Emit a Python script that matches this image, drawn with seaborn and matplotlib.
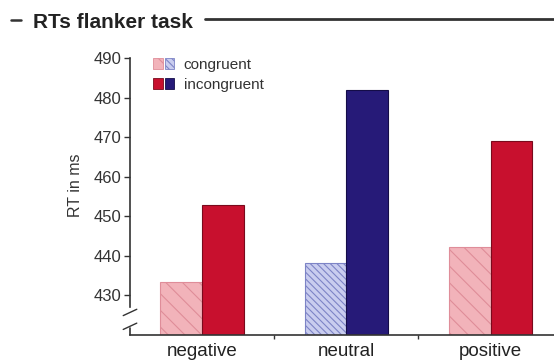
import matplotlib
matplotlib.use("Agg")
import matplotlib.pyplot as plt
import seaborn as sns
import pandas as pd
from matplotlib.patches import Rectangle
from matplotlib.lines import Line2D
from matplotlib.legend_handler import HandlerTuple

# Mean reaction times (ms) per emotion condition
conditions = ["negative", "neutral", "positive"]
congruent_rt = [433.5, 438.3, 442.3]
incongruent_rt = [452.8, 482.0, 469.0]
trial_types = ["congruent", "incongruent"]
y_ticks = [430, 440, 450, 460, 470, 480, 490]

df = pd.DataFrame({
    "condition": conditions * 2,
    "trial": [trial_types[0]] * 3 + [trial_types[1]] * 3,
    "rt": congruent_rt + incongruent_rt,
})

sns.set_theme(style="white")
plt.rcParams["font.family"] = ["Liberation Sans", "DejaVu Sans"]
plt.rcParams["hatch.linewidth"] = 0.8

fig = plt.figure(figsize=(5.54, 3.62), dpi=100)
fig.patch.set_facecolor("white")
ax = fig.add_axes([130 / 554, 1 - 335 / 362, 1 - 130 / 554, 277 / 362])

sns.barplot(data=df, x="condition", y="rt", hue="trial", order=conditions,
            hue_order=trial_types, width=0.58, errorbar=None, legend=False,
            ax=ax)

# colour scheme: red for valenced conditions, blue for neutral
face = {
    ("congruent", "red"): "#f2b3ba", ("congruent", "blue"): "#c9cdef",
    ("incongruent", "red"): "#c8102e", ("incongruent", "blue"): "#261a78",
}
edge = {
    ("congruent", "red"): "#df8d99", ("congruent", "blue"): "#7d84c6",
    ("incongruent", "red"): "#7a0a1c", ("incongruent", "blue"): "#140c48",
}
hatch = {("congruent", "red"): "\\\\", ("congruent", "blue"): "\\\\\\\\\\",
         ("incongruent", "red"): None, ("incongruent", "blue"): None}

for trial, container in zip(trial_types, ax.containers):
    for cond, bar in zip(conditions, container):
        tone = "blue" if cond == "neutral" else "red"
        bar.set_facecolor(face[(trial, tone)])
        bar.set_edgecolor(edge[(trial, tone)])
        bar.set_linewidth(0.8)
        bar.set_hatch(hatch[(trial, tone)])

ax.set_ylim(420, 490)
ax.set_xlim(-0.5, 2.44)
ax.set_yticks(y_ticks)
ax.set_xticks([0, 1, 2])
ax.set_xticklabels(conditions, fontsize=13.5, color="#222222")
ax.set_xticks([0.5, 1.5], minor=True)
ax.tick_params(axis="x", which="major", length=0, pad=6)
ax.tick_params(axis="x", which="minor", bottom=True, length=3, width=1,
               color="#333333", direction="out")
ax.tick_params(axis="y", left=True, length=4, width=1, color="#333333",
               direction="out", labelsize=12, labelcolor="#333333", pad=2)
ax.set_xlabel("")
ax.set_ylabel("RT in ms", fontsize=11.5, color="#333333")
ax.yaxis.set_label_coords(-0.11, 0.54)

for side in ("top", "right"):
    ax.spines[side].set_visible(False)
for side in ("left", "bottom"):
    ax.spines[side].set_color("#333333")
    ax.spines[side].set_linewidth(1.2)
ax.spines["left"].set_bounds(427.2, 490)

# axis break on the y axis
ytr = ax.get_yaxis_transform()
ax.add_line(Line2D([0, 0], [420, 421.8], transform=ytr, color="#333333",
                   lw=1.2, clip_on=False))
for y0 in (421.4, 424.9):
    ax.add_line(Line2D([-0.016, 0.016], [y0, y0 + 1.6], transform=ytr,
                       color="#333333", lw=1.0, clip_on=False))

# legend with paired swatches (red/blue) per trial type
def swatch(trial, tone):
    return Rectangle((0, 0), 1, 1, facecolor=face[(trial, tone)],
                     edgecolor=edge[(trial, tone)], lw=0.6,
                     hatch=hatch[(trial, tone)])

handles = [(swatch(t, "red"), swatch(t, "blue")) for t in trial_types]
ax.legend(handles, trial_types, handler_map={tuple: HandlerTuple(ndivide=None, pad=0.15)},
          loc="upper left", bbox_to_anchor=(0.022, 1.05), frameon=False,
          fontsize=11, handlelength=1.4, handleheight=0.7, handletextpad=0.6,
          labelspacing=0.4, labelcolor="#333333")

# section header
fig.text(33 / 554, 1 - 22 / 362, "RTs flanker task", fontsize=15,
         fontweight="bold", color="#222222", va="center", ha="left")
fig.add_artist(Line2D([11 / 554, 21 / 554], [1 - 20 / 362, 1 - 20 / 362],
                      transform=fig.transFigure, color="#333333", lw=1.8))
fig.add_artist(Line2D([205 / 554, 1.0], [1 - 19 / 362, 1 - 19 / 362],
                      transform=fig.transFigure, color="#333333", lw=2.0))

fig.savefig("out.png", dpi=100, facecolor="white")
